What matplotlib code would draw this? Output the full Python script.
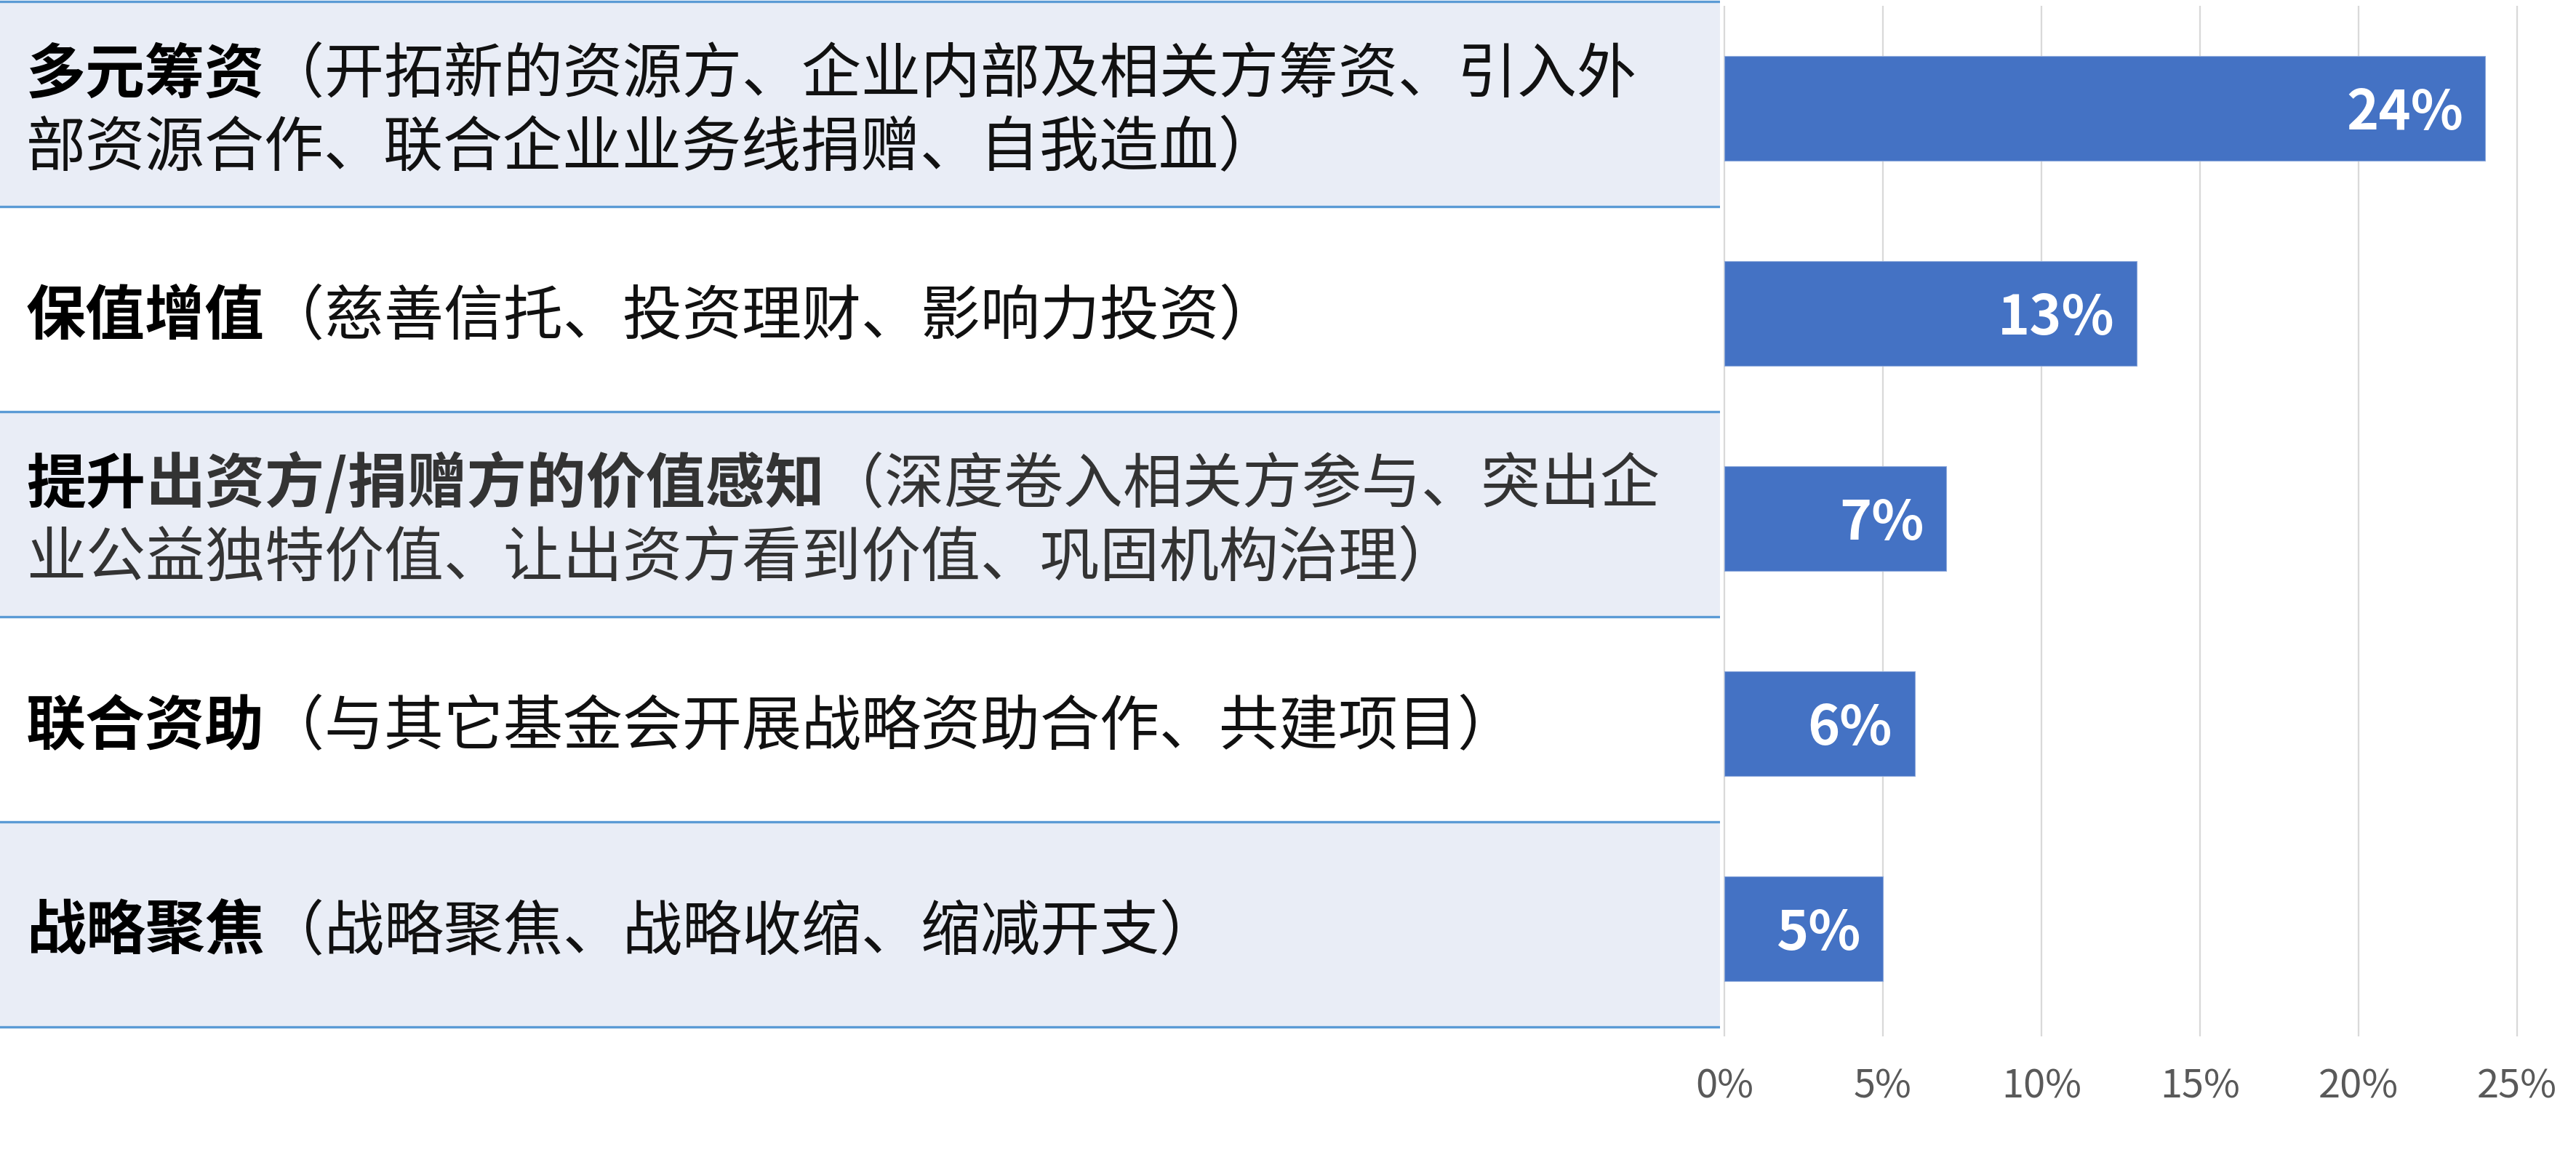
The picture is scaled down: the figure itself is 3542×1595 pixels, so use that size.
import matplotlib
matplotlib.use("Agg")
import matplotlib.pyplot as plt

plt.rcParams['font.family'] = ['Noto Sans CJK SC', 'DejaVu Sans']

# data (top to bottom)
values = [24, 13, 7, 6, 5]
# each row: list of lines, each line a list of (text, bold, color)
labels = [
    [[("多元筹资", True, "#000000"), ("（开拓新的资源方、企业内部及相关方筹资、引入外", False, "#111111")],
     [("部资源合作、联合企业业务线捐赠、自我造血）", False, "#111111")]],
    [[("保值增值", True, "#000000"), ("（慈善信托、投资理财、影响力投资）", False, "#111111")]],
    [[("提升", True, "#000000"), ("出资方/捐赠方的价值感知", True, "#333333"),
      ("（深度卷入相关方参与、突出企", False, "#333333")],
     [("业公益独特价值、让出资方看到价值、巩固机构治理）", False, "#333333")]],
    [[("联合资助", True, "#000000"), ("（与其它基金会开展战略资助合作、共建项目）", False, "#111111")]],
    [[("战略聚焦", True, "#000000"), ("（战略聚焦、战略收缩、缩减开支）", False, "#111111")]],
]
xticks = [0, 5, 10, 15, 20, 25]
xticklabels = ["0%", "5%", "10%", "15%", "20%", "25%"]

W, H = 3542, 1595
ROW_H = 282.0
TOP = 2.0
fig = plt.figure(figsize=(W / 100, H / 100), dpi=100)

# axes vertical extent: from px 0 (top) down to px 1425
ax_bottom = (H - 1425) / H
ax_height = 1425 / H
ylim = (4.5 + (1425 - TOP - 5 * ROW_H) / ROW_H, -0.5 - TOP / ROW_H)

# left label panel
axl = fig.add_axes([0, ax_bottom, 2365 / W, ax_height])
axl.set_xlim(0, 1)
axl.set_ylim(*ylim)
axl.axis("off")
for i in range(len(values)):
    if i % 2 == 0:
        axl.axhspan(i - 0.5, i + 0.5, color="#E9EDF6", lw=0)
for b in range(len(values) + 1):
    axl.axhline(b - 0.5, color="#5B9BD5", lw=2.4)

# bar axes
ax = fig.add_axes([2371 / W, ax_bottom, 1090 / W, ax_height])
ax.set_xlim(0, 25)
ax.set_ylim(*ylim)
for s in ax.spines.values():
    s.set_visible(False)
ax.vlines(xticks, -0.5 + 6 / ROW_H, ylim[0], color="#D9D9D9", lw=1.6, clip_on=False, zorder=0)
# bars sit a touch below the row centre in the original
ypos = [i + 6 / ROW_H for i in range(len(values))]
ax.barh(ypos, values, height=0.51, color="#4472C4", edgecolor="#8FAADC", lw=0.8, zorder=2)
for y, v in zip(ypos, values):
    ax.annotate(f"{v}%", xy=(v, y), xytext=(-22, -21), textcoords="offset points",
                ha="right", va="baseline", color="white", fontsize=54, fontweight="bold")
ax.set_yticks([])
ax.set_xticks(xticks)
ax.set_xticklabels(xticklabels, fontsize=39, color="#595959")
ax.tick_params(axis="x", length=0, pad=30)

# row labels, mixed bold/regular on one baseline
fig.canvas.draw()
renderer = fig.canvas.get_renderer()
FS = 59
LINE_GAP = 101
for i, lines in enumerate(labels):
    center = TOP + ROW_H * (i + 0.5) + 4
    n = len(lines)
    for k, segs in enumerate(lines):
        line_c = center + (k - (n - 1) / 2) * LINE_GAP
        base = line_c + 31  # baseline, px from top
        x = 36
        for txt, bold, col in segs:
            t = fig.text(x / W, (H - base) / H, txt, fontsize=FS, color=col,
                         fontweight="bold" if bold else "normal", ha="left", va="baseline")
            x = t.get_window_extent(renderer).x1

fig.savefig("out.png", dpi=100)
